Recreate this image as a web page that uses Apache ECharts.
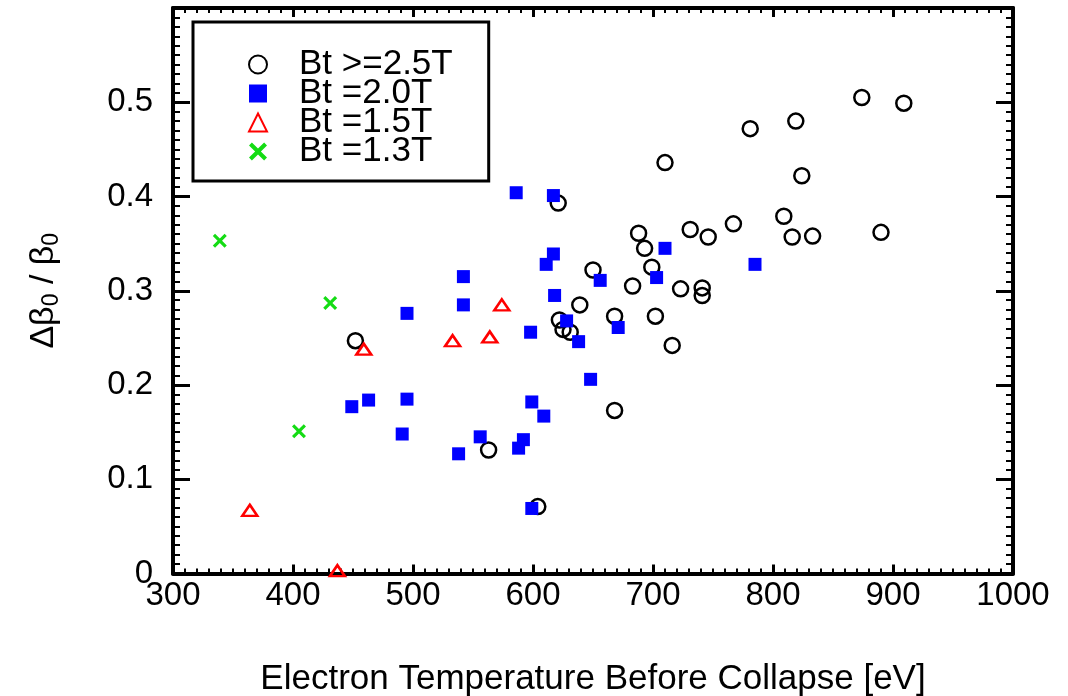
<!DOCTYPE html>
<html>
<head>
<meta charset="utf-8">
<script src="https://cdn.jsdelivr.net/npm/echarts@6/dist/echarts.min.js"></script>
<style>
html,body{margin:0;padding:0;background:#fff;}
#chart{width:1068px;height:696px;}
</style>
</head>
<body>
<div id="chart"></div>
<script>
// Bt >= 2.5T (open circles): [Te (eV), dBeta/Beta]
var bt25 = [
  [452,0.247],[563,0.131],[604,0.071],[621,0.393],[622,0.269],[625,0.259],
  [631,0.256],[639,0.285],[650,0.322],[668,0.173],[668,0.273],[683,0.305],
  [688,0.361],[693,0.345],[699,0.325],[702,0.273],[710,0.436],[716,0.242],
  [723,0.302],[731,0.365],[741,0.303],[741,0.295],[746,0.357],[767,0.371],
  [781,0.472],[809,0.379],[816,0.357],[819,0.480],[824,0.422],[833,0.358],
  [874,0.505],[890,0.362],[909,0.499]
];
// Bt = 2.0T (blue squares)
var bt20 = [
  [449,0.177],[463,0.184],[491,0.148],[495,0.185],[495,0.276],[538,0.127],
  [542,0.285],[542,0.315],[556,0.145],[586,0.404],[588,0.133],[592,0.142],
  [598,0.256],[599,0.182],[599,0.069],[609,0.167],[611,0.328],[617,0.339],
  [617,0.401],[618,0.295],[628,0.268],[638,0.246],[648,0.206],[656,0.311],
  [671,0.261],[703,0.314],[710,0.345],[785,0.328]
];
// Bt = 1.5T (red triangles)
var bt15 = [[364,0.067],[437,0.003],[459,0.238],[533,0.247],[564,0.251],[574,0.285]];
// Bt = 1.3T (green crosses)
var bt13 = [[339,0.353],[405,0.151],[431,0.287]];

var seriesNames = ['Bt >=2.5T','Bt =2.0T','Bt =1.5T','Bt =1.3T'];
var xTitle = 'Electron Temperature Before Collapse [eV]';

var FONT = "'Liberation Sans', Arial, Helvetica, sans-serif";
var XPATH = 'path://M0,1.6 L1.6,0 L5,3.4 L8.4,0 L10,1.6 L6.6,5 L10,8.4 L8.4,10 L5,6.6 L1.6,10 L0,8.4 L3.4,5 Z';

function xAx(pos, showLabel){
  return {
    type:'value', position:pos, min:300, max:1000, interval:100,
    axisLine:{show:true, onZero:false, lineStyle:{color:'#000', width:4}},
    axisTick:{show:true, inside:true, length:9, lineStyle:{color:'#000', width:3}},
    minorTick:{show:true, splitNumber:10, length:5, lineStyle:{color:'#000', width:2}},
    splitLine:{show:false},
    axisLabel:{show:showLabel, color:'#000', fontSize:33, fontFamily:FONT, margin:6,
      formatter:function(v){return String(v);}},
    name: showLabel ? xTitle : '',
    nameLocation:'middle', nameGap:88,
    nameTextStyle:{color:'#000', fontSize:35, fontFamily:FONT}
  };
}
function yAx(pos, showLabel){
  return {
    type:'value', position:pos, min:0, max:0.6, interval:0.1,
    axisLine:{show:true, onZero:false, lineStyle:{color:'#000', width:4}},
    axisTick:{show:true, inside:true, length:17, lineStyle:{color:'#000', width:3}},
    minorTick:{show:true, splitNumber:10, length:7, lineStyle:{color:'#000', width:2}},
    splitLine:{show:false},
    axisLabel:{show:showLabel, color:'#000', fontSize:33, fontFamily:FONT, margin:20,
      showMaxLabel:false, formatter:function(v){return v===0?'0':v.toFixed(1);}},
    name: showLabel ? '{a|Δβ}{s|0}{a| / β}{s|0}' : '',
    nameLocation:'middle', nameGap:110, nameRotate:90,
    nameTextStyle:{color:'#000', fontFamily:FONT,
      rich:{a:{fontSize:34, fontFamily:FONT, color:'#000'},
            s:{fontSize:23, fontFamily:FONT, color:'#000', padding:[16,0,0,0]}}}
  };
}

var chart = echarts.init(document.getElementById('chart'), null, {renderer:'canvas'});
chart.setOption({
  backgroundColor:'#fff',
  animation:false,
  grid:{left:173, right:55, top:8, bottom:122.5, containLabel:false, outerBoundsMode:'none'},
  xAxis:[xAx('bottom', true), xAx('top', false)],
  yAxis:[yAx('left', true), yAx('right', false)],
  legend:{
    orient:'vertical', left:193, top:22,
    padding:[25,36,12,55], itemGap:-6, itemWidth:18, itemHeight:18,
    borderColor:'#000', borderWidth:3, backgroundColor:'#fff',
    textStyle:{color:'#000', fontSize:35, fontFamily:FONT, padding:[0,0,0,27]},
    data:seriesNames, z:10
  },
  series:[
    {name:seriesNames[0], type:'scatter', data:bt25, symbol:'circle', symbolSize:15,
     itemStyle:{color:'rgba(255,255,255,0)', borderColor:'#000', borderWidth:2.5, opacity:1}},
    {name:seriesNames[1], type:'scatter', data:bt20, symbol:'rect', symbolSize:13,
     itemStyle:{color:'#0000ff', opacity:1}},
    {name:seriesNames[2], type:'scatter', data:bt15, symbol:'triangle', symbolSize:[15,11],
     itemStyle:{color:'rgba(255,255,255,0)', borderColor:'#ff0000', borderWidth:2.5, opacity:1}},
    {name:seriesNames[3], type:'scatter', data:bt13, symbol:XPATH, symbolSize:14,
     itemStyle:{color:'#14dc14', opacity:1}}
  ]
});
</script>
</body>
</html>
